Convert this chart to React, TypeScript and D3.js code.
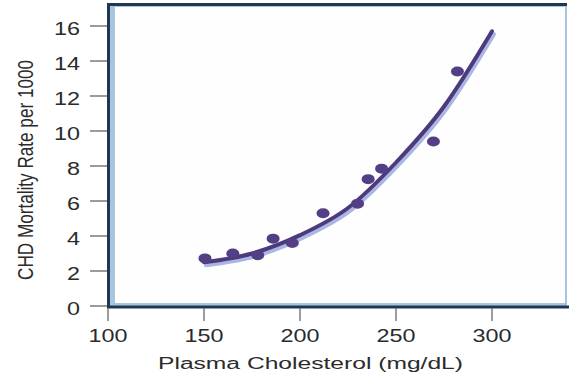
import React from 'react';
import * as d3 from 'd3';

// observed points (cholesterol mg/dL, CHD deaths per 1000)
const cholesterol = [150.5, 165, 178, 186, 196, 212, 230, 235.5, 242.5, 269.5, 282];
const mortality = [2.72, 3.0, 2.9, 3.85, 3.6, 5.3, 5.85, 7.25, 7.85, 9.4, 13.4];

// fitted curve
const fitX = [150, 175, 200, 225, 250, 275, 300];
const fitY = [2.5, 3.0, 4.05, 5.6, 8.2, 11.4, 15.7];

const xTicks = [100, 150, 200, 250, 300];
const yTicks = [0, 2, 4, 6, 8, 10, 12, 14, 16];

const W = 569;
const H = 381;
const font = "'Liberation Sans', Arial, Helvetica, sans-serif";

export default function App() {
  const x = d3.scaleLinear().domain([100, 300]).range([108, 492]);
  const y = d3.scaleLinear().domain([0, 16]).range([306, 26]);

  const frame = { left: 108, top: 4, right: 567, bottom: 306 };

  const fit = fitX.map((v, i) => [v, fitY[i]] as [number, number]);
  const line = d3.line<[number, number]>()
    .x(d => x(d[0]))
    .y(d => y(d[1]))
    .curve(d3.curveMonotoneX);
  const shadow = d3.line<[number, number]>()
    .x(d => x(d[0]) + 2)
    .y(d => y(d[1]) + 3)
    .curve(d3.curveMonotoneX);

  return (
    <svg width={W} height={H} style={{ position: 'absolute', left: 0, top: 0, background: '#fff' }} fontFamily={font}>
      {/* plot frame */}
      <rect x={frame.left} y={frame.top} width={frame.right - frame.left} height={frame.bottom - frame.top} fill="#a9c5dd" />
      <rect x={frame.left + 7} y={frame.top + 3} width={frame.right - frame.left - 9} height={frame.bottom - frame.top - 6} fill="#fefefe" />
      <line x1={frame.left - 1} x2={frame.right} y1={frame.top + 0.5} y2={frame.top + 0.5} stroke="#1e3853" strokeWidth={3} />
      <line x1={frame.left + 0.5} x2={frame.left + 0.5} y1={frame.top - 1} y2={frame.bottom + 2} stroke="#1e3853" strokeWidth={3} />
      <line x1={frame.left - 1} x2={W} y1={frame.bottom + 1} y2={frame.bottom + 1} stroke="#1e3853" strokeWidth={3} />

      {/* y axis */}
      {yTicks.map(t => (
        <g key={'y' + t}>
          <line x1={90} x2={frame.left - 1} y1={y(t)} y2={y(t)} stroke="#7a7a7a" strokeWidth={1.5} />
          <text transform={`translate(80,${y(t) + 9}) scale(1.3,1)`} textAnchor="end" fontSize={18} fill="#2b2b2b">{t}</text>
        </g>
      ))}

      {/* x axis */}
      {xTicks.map(t => (
        <g key={'x' + t}>
          <line x1={x(t)} x2={x(t)} y1={frame.bottom + 2} y2={321} stroke="#7a7a7a" strokeWidth={1.5} />
          <text transform={`translate(${x(t)},342) scale(1.3,1)`} textAnchor="middle" fontSize={18} fill="#2b2b2b">{t}</text>
        </g>
      ))}

      {/* titles */}
      <text x={310.5} y={369} textAnchor="middle" fontSize={16} fill="#2b2b2b" textLength={305} lengthAdjust="spacingAndGlyphs">Plasma Cholesterol (mg/dL)</text>
      <text transform="translate(33,170) scale(1.3,1) rotate(-90)" textAnchor="middle" fontSize={17} fill="#2b2b2b" textLength={220} lengthAdjust="spacingAndGlyphs">CHD Mortality Rate per 1000</text>

      {/* curve */}
      <path d={shadow(fit) || ''} fill="none" stroke="#aab6e4" strokeWidth={4} strokeLinecap="round" />
      <path d={line(fit) || ''} fill="none" stroke="#4c3a7d" strokeWidth={4} strokeLinecap="round" />

      {/* points */}
      {cholesterol.map((c, i) => (
        <ellipse key={'p' + i} cx={x(c)} cy={y(mortality[i])} rx={6.5} ry={5} fill="#533f85" />
      ))}
    </svg>
  );
}
